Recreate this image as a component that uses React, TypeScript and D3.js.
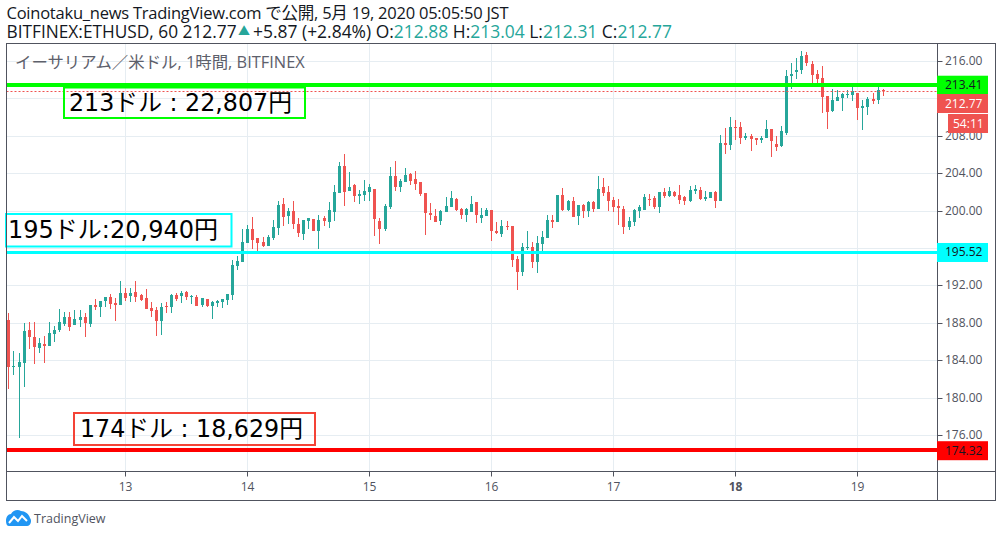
import React from "react";
import * as d3 from "d3";

const W = 1002, H = 537;
const paneLeft = 6.5, paneRight = 937.5, outerRight = 995.5, paneTop = 43.5, paneBottom = 471.5, outerBottom = 500.5;

const opens = [188.3,183.3,183.3,183.7,187.2,186.5,185.3,185.7,185.5,186.8,187.2,187.9,188.6,187.8,188.3,188.6,187.9,189.9,189.7,190.3,190.8,190.1,189.9,191.2,190.9,191.3,191.0,190.7,189.6,189.4,188.2,189.8,189.7,191.0,190.9,191.3,190.8,190.8,189.9,190.5,189.8,190.1,190.2,190.4,191.0,194.1,194.5,196.5,198.0,197.1,196.6,196.2,197.1,198.1,200.7,199.4,200.0,198.6,197.5,198.9,199.1,197.8,199.2,198.8,199.9,201.9,204.8,202.1,202.7,201.6,201.7,202.0,202.3,198.9,198.0,200.4,203.7,202.5,203.1,203.9,203.4,203.1,201.9,199.7,199.4,198.9,199.9,200.4,201.2,200.2,199.5,199.9,200.9,199.2,199.4,200.1,197.8,197.5,198.4,198.4,194.8,193.4,196.0,196.1,194.5,196.4,197.1,199.0,198.8,201.7,200.1,201.0,199.4,200.6,200.0,200.9,200.2,202.5,202.0,201.1,200.5,200.2,198.2,198.8,200.0,200.1,201.2,201.3,200.4,202.0,201.6,202.0,201.7,201.5,201.0,202.1,202.2,201.2,201.3,202.0,201.0,207.2,207.0,208.9,208.9,207.8,208.0,207.8,207.6,207.8,208.7,207.1,206.9,208.3,214.4,214.8,215.0,216.6,215.7,214.6,214.2,212.3,210.7,211.7,212.0,212.4,212.4,212.6,211.0,211.1,211.9,211.8,212.88];
const highs = [189.0,185.0,184.8,188.0,188.1,188.1,186.4,186.6,188.1,187.7,189.5,189.2,189.2,189.4,189.4,189.0,189.9,190.5,190.3,190.8,191.1,190.7,192.5,191.7,191.7,192.5,191.1,191.6,190.2,189.7,190.1,190.2,191.1,191.2,191.4,191.4,191.0,191.0,190.7,190.5,190.3,190.4,190.5,191.1,194.7,195.1,198.0,198.5,199.3,197.1,197.2,197.4,199.0,201.0,201.3,200.3,201.0,199.2,199.0,199.2,199.1,199.5,199.4,200.9,202.7,205.2,206.1,204.1,202.8,202.2,203.3,202.8,202.3,199.2,200.7,204.7,205.3,203.4,204.6,204.0,204.2,203.1,201.9,200.8,200.2,200.1,201.5,202.1,201.3,200.3,200.3,201.6,200.9,200.3,200.3,200.1,198.8,199.0,198.9,198.4,195.1,196.5,197.8,196.6,197.3,197.8,199.5,199.5,201.7,202.4,201.1,201.5,200.6,200.7,201.0,201.0,203.7,203.5,202.6,201.5,201.2,200.5,199.3,200.2,200.6,201.8,201.8,201.6,202.0,202.4,202.5,202.1,202.7,201.6,202.6,202.7,202.5,202.1,202.0,202.1,208.1,208.8,210.0,209.7,209.5,208.3,208.2,207.8,208.0,209.7,208.7,208.0,209.0,215.0,215.8,216.3,217.1,217.0,216.0,215.0,215.5,212.3,213.0,212.9,212.6,212.9,213.2,212.6,211.8,212.2,212.6,213.4,213.04];
const lows = [180.9,182.4,175.7,181.1,185.2,183.6,184.8,183.7,185.5,185.9,187.0,187.7,187.1,187.8,187.6,186.5,187.6,189.4,188.6,189.7,189.5,188.2,189.9,190.3,190.2,190.2,190.3,189.5,188.6,186.6,186.7,189.0,189.0,190.3,190.1,190.4,190.0,189.8,189.7,189.7,188.4,189.7,189.6,189.9,190.4,193.6,194.5,196.5,195.9,195.7,196.1,196.2,196.9,197.4,198.4,198.6,198.0,197.2,196.9,198.0,197.8,195.9,198.4,198.1,198.9,201.9,200.5,202.1,200.9,200.7,201.0,201.0,197.3,196.4,197.8,200.2,202.1,202.0,203.1,202.7,202.2,201.6,197.4,199.0,198.8,198.5,199.9,200.4,200.0,199.1,198.8,199.9,198.7,198.7,199.4,196.7,197.5,197.2,197.9,194.0,191.5,193.0,195.8,193.9,193.3,195.6,197.1,198.1,198.8,200.0,200.0,199.3,198.5,199.2,199.3,199.9,200.2,201.6,200.0,199.9,198.5,197.5,197.9,198.4,199.2,200.1,200.5,200.2,199.7,201.3,201.5,201.5,200.7,200.6,200.9,201.8,201.1,201.0,201.3,200.3,201.0,206.1,206.5,207.6,207.1,207.6,206.4,207.0,207.2,207.8,205.7,206.4,206.8,208.1,213.0,214.1,214.6,215.5,213.6,213.6,210.4,208.7,210.5,211.7,210.6,212.0,211.7,209.7,208.6,210.2,211.4,211.4,212.31];
const closes = [183.3,183.4,183.8,187.1,186.5,185.4,185.8,185.5,186.9,187.2,188.1,188.6,187.6,188.4,188.6,188.0,189.9,189.7,190.3,190.8,190.0,189.9,191.2,190.7,191.2,190.8,190.4,189.5,189.3,188.2,189.7,189.7,191.0,190.5,191.2,190.8,190.9,189.8,190.7,189.8,190.2,190.3,190.5,191.1,194.2,194.6,196.6,198.0,196.9,196.5,196.2,197.2,198.2,200.6,199.3,200.0,198.6,197.6,199.0,199.2,197.8,199.0,198.9,200.1,202.0,204.8,202.0,202.5,201.6,201.8,202.1,202.5,199.1,198.0,200.5,203.7,202.5,203.2,203.8,203.2,202.8,201.8,199.7,199.5,198.8,200.0,200.5,201.3,200.1,199.5,200.2,200.7,199.5,199.5,200.1,197.8,197.6,198.4,198.2,194.7,193.4,196.1,196.1,194.5,196.5,197.2,199.0,198.8,201.7,200.1,201.0,199.3,200.6,200.0,200.9,200.2,202.3,201.9,201.0,200.4,200.3,198.2,198.9,200.1,200.4,201.5,201.1,200.4,202.0,201.6,202.1,201.6,201.1,201.0,202.2,202.3,201.2,201.5,202.0,201.0,207.2,207.0,208.9,208.8,207.8,208.0,207.7,207.6,207.8,208.7,207.4,206.8,208.5,214.4,214.6,215.0,216.5,215.8,214.5,214.1,212.1,210.5,211.8,212.1,212.5,212.5,212.8,211.0,211.2,211.9,211.7,212.9,212.77];

const priceTicks = [216, 212, 208, 204, 200, 196, 192, 188, 184, 180, 176];
const hiddenPriceLabels = [212, 196];
const dayLabels = ["13", "14", "15", "16", "17", "18", "19"];
const dayCandleIndex = [23, 47, 71, 95, 119, 143, 167];
const boldDay = "18";
const lastPrice = 212.77;
const levelPrices = [213.41, 195.52, 174.32];
const noteTexts = ["213ドル : 22,807円", "195ドル:20,940円", "174ドル : 18,629円"];

const levelStyle = [
  { color: "#00ff00", t: 83, h: 4 },
  { color: "#00ffff", t: 251, h: 3 },
  { color: "#ff0000", t: 448, h: 4 },
];
const noteStyle = [
  { x0: 64, x1: 305, y0: 87.5, y1: 118, color: "#00ff00", tx: 69, len: 223 },
  { x0: 6, x1: 231.5, y0: 214, y1: 246.5, color: "#00ffff", tx: 8, len: 210 },
  { x0: 74, x1: 315, y0: 413, y1: 445, color: "#f44336", tx: 80, len: 223 },
];

const green = "#26a69a", red = "#ef5350";
const ui = "'Open Sans','Noto Sans CJK JP',sans-serif";
const noteFont = "'DejaVu Sans','Noto Sans CJK JP',sans-serif";
const lineColor = "#50535e";
const gridColor = "#e6edf2";

export default function App() {
  const y = d3.scaleLinear().domain([216, 176]).range([61, 435]);
  const x = d3.scaleLinear().domain([0, 172]).range([8.4, 882.7]);
  const cx = (i: number) => Math.round(x(i));
  const bw = 3;
  const cloud =
    "M6 521 C6 517 8 514 11 514 C13 510 18 509 21 511 C25 511 29 514 30 518 C32 520 31 526 27 526 L9 526 C7 526 6 524 6 521 Z";

  return (
    <svg width={W} height={H} style={{ position: "absolute", left: 0, top: 0, background: "#fff" }}>
      <text x={6.5} y={19} fontFamily={ui} fontSize={16.5} fill="#131722" textLength={502} lengthAdjust="spacing">
        Coinotaku_news TradingView.com で公開, 5月 19, 2020 05:05:50 JST
      </text>
      <text x={6.5} y={37.5} fontFamily={ui} fontSize={17.3} fill="#131722">BITFINEX:ETHUSD, 60 212.77</text>
      <text x={238} y={35.5} fontFamily={ui} fontSize={12} fill={green}>▲</text>
      <text x={253} y={37.5} fontFamily={ui} fontSize={17.45} fill="#131722">
        +5.87 (+2.84%) O:
        <tspan fill={green}>212.88</tspan>
        <tspan> H:</tspan>
        <tspan fill={green}>213.04</tspan>
        <tspan> L:</tspan>
        <tspan fill={green}>212.31</tspan>
        <tspan> C:</tspan>
        <tspan fill={green}>212.77</tspan>
      </text>

      {priceTicks.map((p) => (
        <line key={p} x1={paneLeft} x2={paneRight} y1={Math.round(y(p)) + 0.5} y2={Math.round(y(p)) + 0.5} stroke={gridColor} />
      ))}
      {dayCandleIndex.map((i) => (
        <line key={i} x1={cx(i) + 0.5} x2={cx(i) + 0.5} y1={paneTop} y2={paneBottom} stroke={gridColor} />
      ))}

      <text x={15} y={68} fontFamily={ui} fontSize={16.4} fill="#5d606b">
        イーサリアム／米ドル, 1時間, BITFINEX
      </text>

      {opens.map((o, i) => {
        const c = closes[i];
        const col = c >= o ? green : red;
        const top = y(Math.max(o, c));
        const bot = y(Math.min(o, c));
        return (
          <g key={i} fill={col} shapeRendering="crispEdges">
            <rect x={cx(i)} y={y(highs[i])} width={1} height={y(lows[i]) - y(highs[i])} />
            <rect x={cx(i) - (bw - 1) / 2} y={top} width={bw} height={Math.max(1, bot - top)} />
          </g>
        );
      })}

      <line x1={paneLeft} x2={paneRight} y1={Math.round(y(lastPrice)) + 0.5} y2={Math.round(y(lastPrice)) + 0.5} stroke={red} strokeWidth={1} strokeDasharray="2 2" />

      {levelPrices.map((_, k) => (
        <rect key={k} x={paneLeft} width={paneRight - paneLeft} y={levelStyle[k].t} height={levelStyle[k].h} fill={levelStyle[k].color} />
      ))}

      {noteTexts.map((text, k) => {
        const n = noteStyle[k];
        return (
          <g key={text}>
            <rect x={n.x0} y={n.y0} width={n.x1 - n.x0} height={n.y1 - n.y0} fill="none" stroke={n.color} strokeWidth={2} />
            <text x={n.tx} y={(n.y0 + n.y1) / 2 + 8} fontFamily={noteFont} fontSize={24} fill="#000" textLength={n.len} lengthAdjust="spacingAndGlyphs">
              {text}
            </text>
          </g>
        );
      })}

      <rect x={paneLeft} y={paneTop} width={outerRight - paneLeft} height={outerBottom - paneTop} fill="none" stroke={lineColor} />
      <line x1={paneRight} x2={paneRight} y1={paneTop} y2={outerBottom} stroke={lineColor} />
      <line x1={paneLeft} x2={outerRight} y1={paneBottom} y2={paneBottom} stroke={lineColor} />

      {priceTicks.map((p) => (
        <g key={p}>
          <line x1={paneRight} x2={paneRight + 5} y1={Math.round(y(p)) + 0.5} y2={Math.round(y(p)) + 0.5} stroke={lineColor} />
          {!hiddenPriceLabels.includes(p) && (
            <text x={945} y={y(p) + 4} fontFamily={ui} fontSize={12} fill="#50535e">{p.toFixed(2)}</text>
          )}
        </g>
      ))}

      {dayLabels.map((d, k) => (
        <g key={d}>
          <line x1={cx(dayCandleIndex[k]) + 0.5} x2={cx(dayCandleIndex[k]) + 0.5} y1={paneBottom} y2={paneBottom + 5} stroke={lineColor} />
          <text x={cx(dayCandleIndex[k]) + 0.5} y={491} textAnchor="middle" fontFamily={ui} fontSize={12} fontWeight={d === boldDay ? 700 : 400} fill="#50535e">{d}</text>
        </g>
      ))}

      {levelPrices.map((p, k) => {
        const h = 19;
        const yc = y(p);
        return (
          <g key={k}>
            <rect x={937} y={yc - h / 2} width={51} height={h} fill={levelStyle[k].color} />
            <text x={945} y={yc + 4} fontFamily={ui} fontSize={12} fill="#131722">{p.toFixed(2)}</text>
          </g>
        );
      })}
      <rect x={937} y={94} width={51} height={19} fill={red} />
      <text x={945} y={107.5} fontFamily={ui} fontSize={12} fill="#fff">{lastPrice.toFixed(2)}</text>
      <rect x={948} y={114} width={40} height={19} fill={red} />
      <text x={953} y={127.5} fontFamily={ui} fontSize={12} fill="#fff">54:11</text>

      <path d={cloud} fill="#2196f3" />
      <path d="M9 523 L14 517 L18 521 L22 516 L27 521" fill="none" stroke="#fff" strokeWidth={2} />
      <text x={34} y={523} fontFamily={ui} fontSize={12.5} fill="#50535e">TradingView</text>
    </svg>
  );
}
